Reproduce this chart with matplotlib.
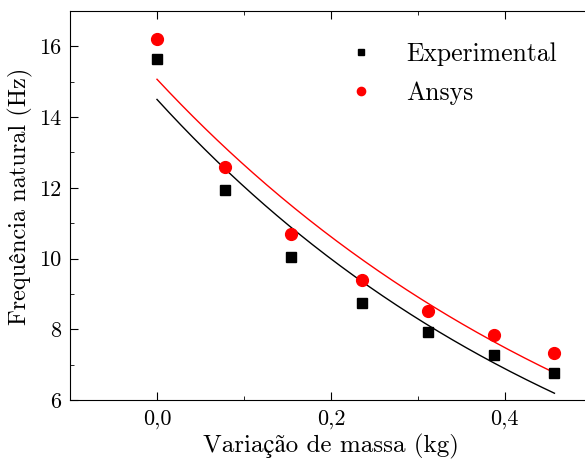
import numpy as np
import matplotlib
matplotlib.use("Agg")
import matplotlib.pyplot as plt
from matplotlib.ticker import FuncFormatter, MultipleLocator

plt.rcParams['font.family'] = ['cmr10', 'STIXGeneral']
plt.rcParams['mathtext.fontset'] = 'cm'
plt.rcParams['axes.unicode_minus'] = False

# data
massa = [0.0, 0.078, 0.154, 0.236, 0.312, 0.387, 0.457]
freq_experimental = [15.63, 11.93, 10.04, 8.75, 7.92, 7.26, 6.76]
freq_ansys = [16.20, 12.59, 10.70, 9.38, 8.51, 7.85, 7.34]

# exponential decay fits (y = A * exp(-B * x)), parameters
fit_experimental = (14.50, 1.862)
fit_ansys = (15.07, 1.751)


def fit_curve(params, x):
    a, b = params
    xs = np.linspace(min(x), max(x), 200)
    return xs, a * np.exp(-b * xs)


fig = plt.figure(figsize=(5.85, 4.59), dpi=100)
ax = fig.add_axes([0.1197, 0.1285, 0.892, 0.8475])

xs, ys = fit_curve(fit_experimental, massa)
ax.plot(xs, ys, color='black', lw=1.0)
xs, ys = fit_curve(fit_ansys, massa)
ax.plot(xs, ys, color='red', lw=1.0)

ax.plot(massa, freq_experimental, 's', color='black', ms=7, label='Experimental')
ax.plot(massa, freq_ansys, 'o', color='red', ms=8.5, label='Ansys')

ax.set_xlim(-0.1, 0.5)
ax.set_ylim(6, 17)
ax.xaxis.set_major_locator(MultipleLocator(0.2))
ax.xaxis.set_minor_locator(MultipleLocator(0.1))
ax.yaxis.set_major_locator(MultipleLocator(2))
ax.yaxis.set_minor_locator(MultipleLocator(1))
ax.xaxis.set_major_formatter(FuncFormatter(lambda v, p: f"{v:.1f}".replace('.', ',')))
ax.yaxis.set_major_formatter(FuncFormatter(lambda v, p: f"{v:.0f}"))
ax.tick_params(which='both', direction='in', top=True, right=False, labelsize=16)
ax.tick_params(which='major', length=6)
ax.tick_params(which='minor', length=3)
ax.tick_params(axis='x', pad=7)
ax.tick_params(axis='y', pad=6)

ax.set_xlabel('Variação de massa (kg)', fontsize=18, labelpad=3)
ax.set_ylabel('Frequência natural (Hz)', fontsize=17.5)
ax.yaxis.set_label_coords(-0.071, 0.524)

ax.legend(loc='upper right', bbox_to_anchor=(0.977, 0.98), frameon=False, fontsize=18.5,
          markerscale=0.7, handletextpad=0.75, labelspacing=0.62)

fig.savefig('out.png', dpi=100)
